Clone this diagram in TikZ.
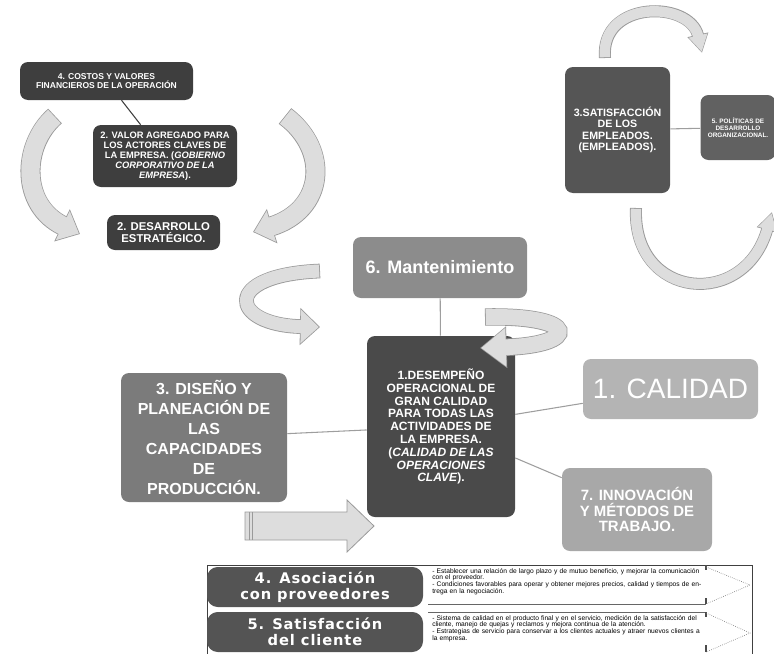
\documentclass[tikz,border=0pt]{standalone}
\usepackage{fontspec}
\setmainfont{Liberation Sans}
\newfontfamily\widefont[LetterSpace=6]{DejaVu Sans}
\usetikzlibrary{arrows.meta}
\definecolor{dk}{HTML}{3E3E3E}
\definecolor{dkb}{HTML}{4A4A4A}
\definecolor{satc}{HTML}{555555}
\definecolor{polc}{HTML}{616161}
\definecolor{mantc}{HTML}{8C8C8C}
\definecolor{disc}{HTML}{7B7B7B}
\definecolor{calc}{HTML}{B4B4B4}
\definecolor{innc}{HTML}{A8A8A8}
\definecolor{tabc}{HTML}{545454}
\definecolor{rbedge}{HTML}{9A9A9A}
\definecolor{rbfill}{HTML}{DDDDDD}
\definecolor{connc}{HTML}{9E9E9E}
\newcommand\rbarrow[4]{%
 \pgfmathsetmacro\rbWi{#1-1.2}%
 \pgfmathsetmacro\rbLi{#2-1.5}%
 \pgfmathsetmacro\rbTi{#3*(#2-1.5)/#2}%
 \draw[line width=#1pt, draw=rbedge, -{Triangle[length=#2pt,width=#3pt]}] #4;
 \draw[line width=\rbWi pt, draw=rbfill, shorten >=0.9pt, shorten <=0.6pt, -{Triangle[length=\rbLi pt,width=\rbTi pt]}] #4;}
\begin{document}
\begin{tikzpicture}[x=0.75pt,y=-0.75pt,
  box/.style={rounded corners=6pt, align=center, text=white, inner sep=2pt},
  dkbox/.style={box, fill=dk},
  conn/.style={draw=connc, line width=0.8pt},
  bullettext/.style={anchor=north west, text width=205pt, align=left, inner sep=0pt, font=\fontsize{5}{5}\selectfont}]
\useasboundingbox (0,0) rectangle (774,653);
\clip (0,0) rectangle (774,653);

% ribbons not overlapping boxes
\rbarrow{15}{15}{26}{(55,116) .. controls (22,145) and (20,205) .. (80,234)}
\rbarrow{15}{15}{26}{(285,116) .. controls (330,150) and (325,210) .. (253,232)}
\rbarrow{11}{15}{27}{(320,271) .. controls (220,275) and (230,325) .. (320,327)}
\rbarrow{9}{14}{15}{(605,58) .. controls (600,0) and (690,0) .. (702,53)}
\rbarrow{9}{14}{15}{(636,208) .. controls (632,300) and (745,310) .. (772,212)}

% top left group
\node[dkbox, minimum width=129.75pt, minimum height=28.5pt, font=\bfseries\fontsize{6.4}{7.2}\selectfont] (costos) at (106.5,81) {4. COSTOS Y VALORES\\FINANCIEROS DE LA OPERACIÓN};
\node[dkbox, minimum width=108pt, minimum height=46.5pt, font=\bfseries\fontsize{7}{7.6}\selectfont] (valor) at (165,156) {2. VALOR AGREGADO PARA\\LOS ACTORES CLAVES DE\\LA EMPRESA. (\textit{GOBIERNO}\\\textit{CORPORATIVO DE LA}\\\textit{EMPRESA}).};
\node[dkbox, minimum width=84.75pt, minimum height=26.25pt, font=\bfseries\fontsize{8.5}{9.3}\selectfont] (desarrollo) at (163.5,232.5) {2. DESARROLLO\\ESTRATÉGICO.};
\draw[conn, draw=dk] (costos) -- (valor);

% top right group
\node[box, fill=satc, minimum width=78.75pt, minimum height=94.5pt, font=\bfseries\fontsize{8}{8.6}\selectfont] (satisf) at (617.5,130) {3.SATISFACCIÓN\\DE LOS\\EMPLEADOS.\\(EMPLEADOS).};
\node[box, fill=polc, minimum width=56.25pt, minimum height=48.75pt, font=\bfseries\fontsize{4.8}{5.2}\selectfont] (politicas) at (738,127.5) {5. POLÍTICAS DE\\DESARROLLO\\ORGANIZACIONAL.};
\draw[conn] (satisf) -- (politicas);

% center group
\node[box, fill=mantc, minimum width=130.5pt, minimum height=45.75pt, font=\bfseries\fontsize{13.5}{15}\selectfont] (mant) at (440,267.5) {6. Mantenimiento};
\node[box, fill=dkb, minimum width=111pt, minimum height=135.75pt, font=\bfseries\fontsize{9}{9.6}\selectfont] (desempeno) at (441,426.5) {1.DESEMPEÑO\\OPERACIONAL DE\\GRAN CALIDAD\\PARA TODAS LAS\\ACTIVIDADES DE\\LA EMPRESA.\\(\textit{CALIDAD DE LAS}\\\textit{OPERACIONES}\\\textit{CLAVE}).};
\node[box, fill=disc, minimum width=124.5pt, minimum height=96.75pt, font=\bfseries\fontsize{12}{15}\selectfont] (diseno) at (204,437.5) {3. DISEÑO Y\\PLANEACIÓN DE\\LAS\\CAPACIDADES\\DE\\PRODUCCIÓN.};
\node[box, fill=calc, minimum width=131.25pt, minimum height=45pt, font=\fontsize{21}{23}\selectfont] (calidad) at (670.5,389) {1. CALIDAD};
\node[box, fill=innc, minimum width=112.5pt, minimum height=62.25pt, font=\bfseries\fontsize{11.2}{11.6}\selectfont] (innov) at (637,509.5) {7. INNOVACIÓN\\Y MÉTODOS DE\\TRABAJO.};
\draw[conn] (mant) -- (desempeno);
\draw[conn] (diseno) -- (desempeno);
\draw[conn] (desempeno) -- (calidad);
\draw[conn] (desempeno) -- (innov);

% ribbons over boxes
\rbarrow{13}{20}{30}{(485,317) .. controls (580,315) and (580,345) .. (480,348)}
\draw[draw=rbedge, fill=rbfill, line width=0.6pt] (245,512) -- (347,512) -- (347,500) -- (374,526) -- (347,552) -- (347,540) -- (245,540) -- cycle;
\draw[rbedge, line width=0.6pt] (249,512) -- (249,540) (252,512) -- (252,540);

% bottom panel
\draw[black!75, line width=0.7pt] (207,565) rectangle (752,672);
\draw[black!60, line width=0.5pt] (428,604) -- (706,604) (428,612) -- (706,612);
\draw[black!70, line width=0.8pt] (706,565) -- (706,570) (706,598) -- (706,604) (706,612) -- (706,617) (706,645) -- (706,652);
\draw[gray, densely dotted, line width=0.5pt] (706,567) -- (750,585) -- (706,604);
\draw[gray, densely dotted, line width=0.5pt] (706,613) -- (750,633) -- (706,652);
\node[box, fill=tabc, rounded corners=8pt, minimum width=162pt, minimum height=30pt, font=\widefont\bfseries\fontsize{11}{12}\selectfont] (tab1) at (315,587) {4. Asociación\\con proveedores};
\node[box, fill=tabc, rounded corners=8pt, minimum width=162pt, minimum height=30pt, font=\widefont\bfseries\fontsize{11}{12}\selectfont] (tab2) at (315,632) {5. Satisfacción\\del cliente};
\node[bullettext] (txt1) at (432,568) {- Establecer una relación de largo plazo y de mutuo beneficio, y mejorar la comunicación con el proveedor.\\- Condiciones favorables para operar y obtener mejores precios, calidad y tiempos de entrega en la negociación.};
\node[bullettext] (txt2) at (432,615) {- Sistema de calidad en el producto final y en el servicio, medición de la satisfacción del cliente, manejo de quejas y reclamos y mejora continua de la atención.\\- Estrategias de servicio para conservar a los clientes actuales y atraer nuevos clientes a la empresa.};
\end{tikzpicture}
\end{document}
